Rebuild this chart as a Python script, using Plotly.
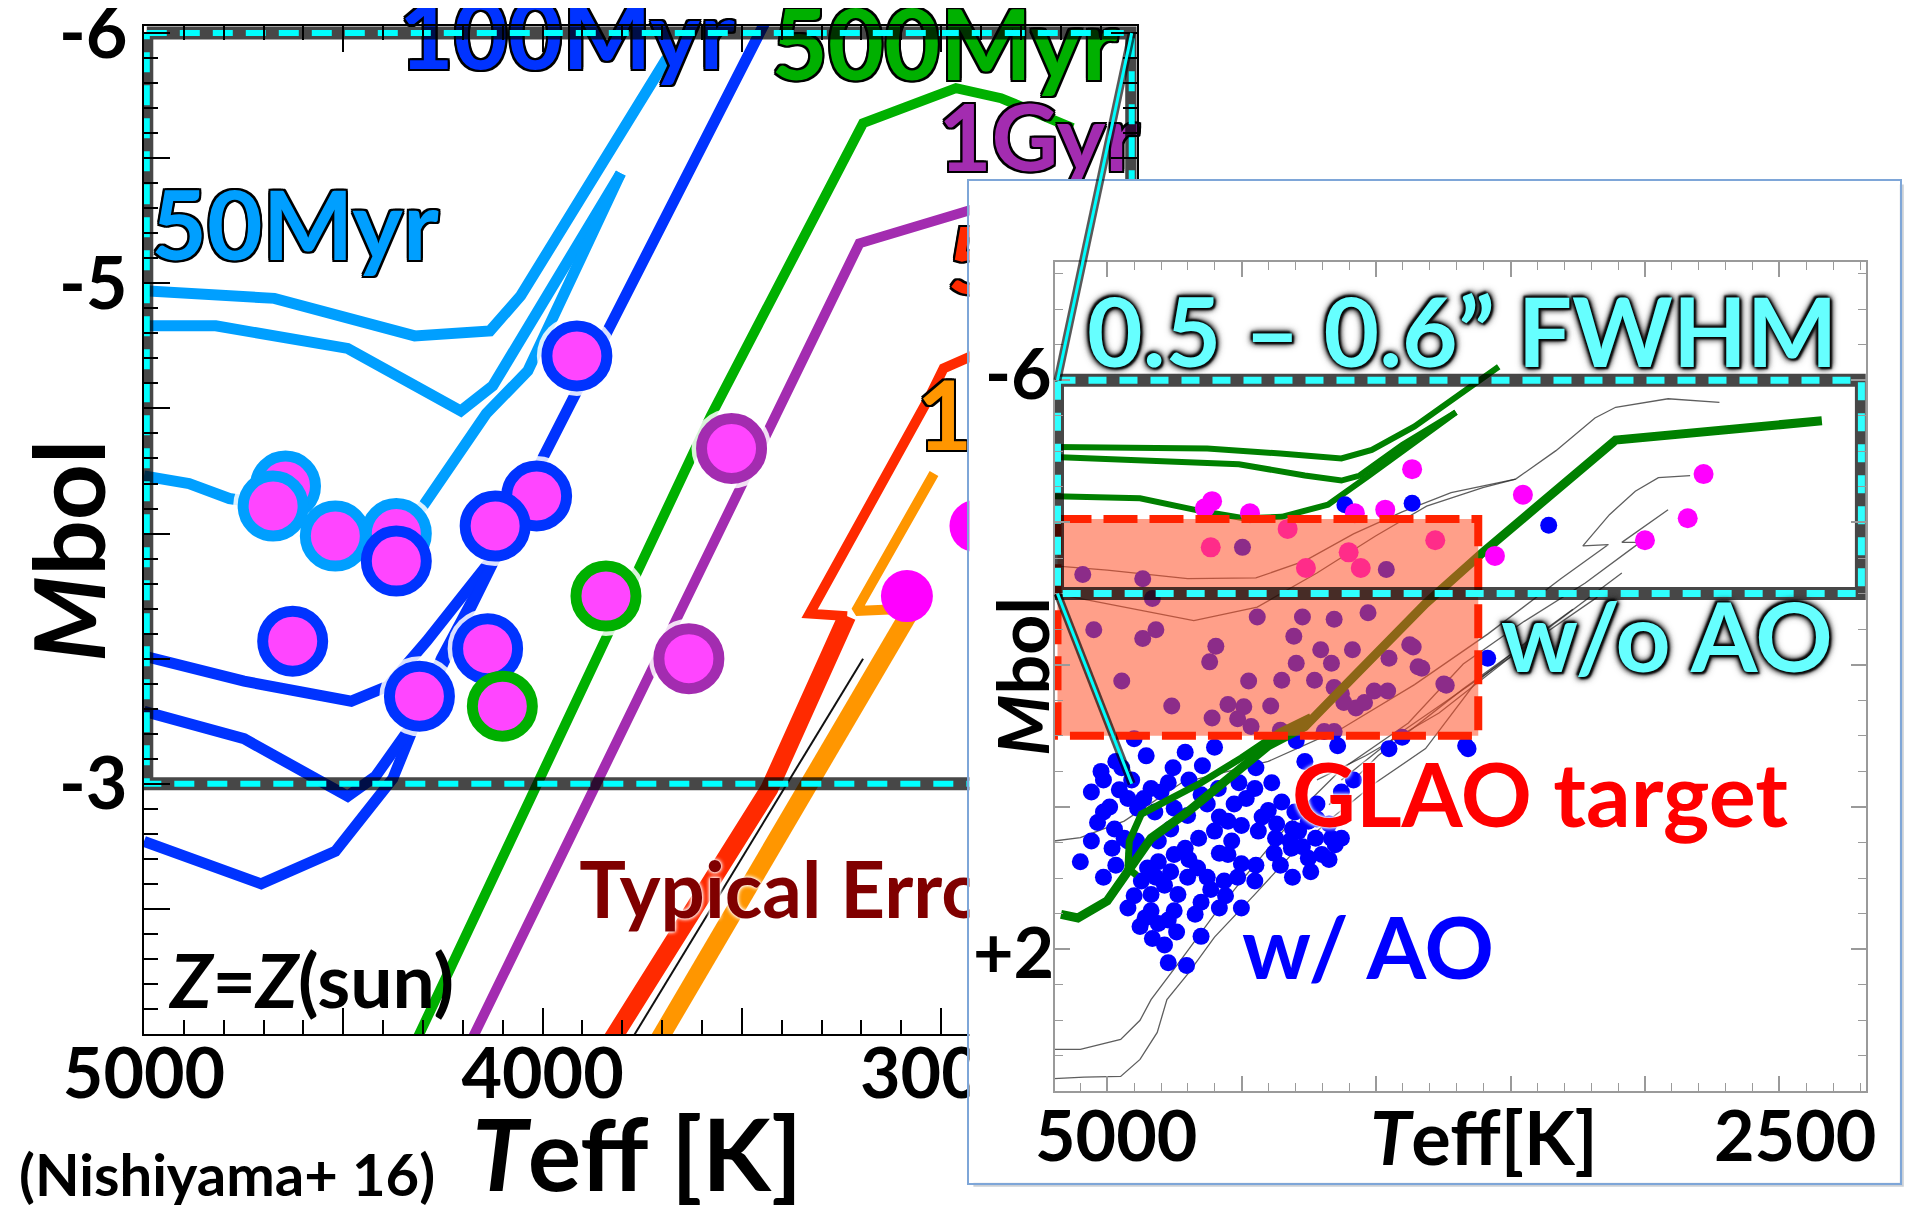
import plotly.graph_objects as go

OFF = 8            # page body margin (px)
FW, FH = 1904, 1197
FONT = "Lato"


def px_x(x):
    return (x - OFF) / FW


def px_y(y):
    return 1 - (y - OFF) / FH


# ---------------- main panel : isochrones (Teff [K], Mbol) ----------------
iso50_a_teff = [5000, 4673, 4321, 4132, 4055, 3688]
iso50_a_mbol = [-4.97, -4.94, -4.79, -4.81, -4.95, -5.90]
iso50_b_teff = [5000, 4820, 4489, 4205, 4125, 3804]
iso50_b_mbol = [-4.83, -4.83, -4.74, -4.49, -4.59, -5.44]
iso50_c_teff = [5000, 4887, 4786, 4658, 4517, 4367, 4300, 4141, 4037, 3804]
iso50_c_mbol = [-4.23, -4.20, -4.14, -4.11, -4.02, -4.00, -4.11, -4.48, -4.65, -5.44]

iso100_a_teff = [3443, 3841, 3997, 4107, 4254, 4376, 4520, 4706, 5000]
iso100_a_mbol = [-6.04, -4.81, -4.31, -3.94, -3.50, -3.02, -2.73, -2.60, -2.77]
iso100_b_teff = [5000, 4749, 4480, 4388, 4291, 4184, 4107]
iso100_b_mbol = [-3.51, -3.41, -3.33, -3.39, -3.57, -3.79, -3.94]
iso100_c_teff = [5000, 4749, 4489, 4419, 4321, 4242, 4107]
iso100_c_mbol = [-3.29, -3.18, -2.95, -3.03, -3.25, -3.51, -3.94]

iso500_teff = [2670, 2850, 2963, 3196, 3578, 4321]
iso500_mbol = [-5.62, -5.74, -5.78, -5.64, -4.47, -1.96]
iso1g_teff = [2807, 3205, 4180]
iso1g_mbol = [-5.35, -5.16, -1.97]
iso5g_up_teff = [2823, 2930, 2994, 3028, 3330, 3236]
iso5g_up_mbol = [-4.78, -4.71, -4.66, -4.55, -3.68, -3.67]
iso5g_lo_teff = [3236, 3431, 3829]
iso5g_lo_mbol = [-3.67, -2.98, -1.97]
iso10g_up_teff = [3018, 3214, 3073]
iso10g_up_mbol = [-4.24, -3.69, -3.70]
iso10g_lo_teff = [3073, 3711]
iso10g_lo_mbol = [-3.70, -1.97]
edge_teff = [3196, 3780]
edge_mbol = [-3.50, -1.97]

# ---------------- main panel : stars ----------------
star_dblue_teff = [3914, 4015, 4119, 4367, 4627, 4138, 4309]
star_dblue_mbol = [-4.71, -4.15, -4.03, -3.89, -3.57, -3.54, -3.35]
star_lblue_teff = [4645, 4676, 4520, 4367]
star_lblue_mbol = [-4.19, -4.11, -3.99, -4.00]
star_green_teff = [3841, 4101]
star_green_mbol = [-3.75, -3.31]
star_purple_teff = [3526, 3633]
star_purple_mbol = [-4.34, -3.50]
star_plain_teff = [3086, 2914]
star_plain_mbol = [-3.75, -4.03]

zoom_box_teff = [4993, 2522]
zoom_box_mbol = [-6.0, -3.0]

main_xtick_vals = [5000, 4500, 4000, 3500, 3000, 2500]
main_xtick_text = ["5000", "", "4000", "", "3000", ""]
main_ytick_vals = [-6, -5.5, -5, -4.5, -4, -3.5, -3, -2.5, -2]
main_ytick_text = ["-6", "", "-5", "", "", "", "-3", "", ""]

# ---------------- inset : data ----------------
in_blue_teff = [4116, 3866, 3358, 3585, 3658,
                5023, 4855, 4710, 4646, 4601, 4773, 4955, 4837, 4991, 5014, 4973, 4937, 4982, 4887,
                4823, 4751, 4701, 4651, 4587, 4510, 4451, 4388, 4351, 4302, 4252, 4288, 4225, 4166,
                4152, 4202, 4252, 4315, 4374, 4438, 4501, 4551, 4601, 4660, 4710, 4751, 4810, 4850,
                4873, 4837, 4787, 4737, 4751, 4837, 4859, 4810, 4773, 4701, 4664, 4615, 4565, 4501,
                4451, 4501, 4551, 5100, 4705, 4265, 3952, 3667,
                4923, 4810, 4628, 4537, 4401, 4311, 4583, 4764, 4900, 4220, 4129, 4084, 4356, 4651,
                4946, 4447, 4900, 4297, 3903, 4143,
                5059, 5014, 4968, 4909, 4864, 4800, 4755, 4696, 4637, 4583, 4528, 4483, 4424, 4370,
                4320, 4274, 4220, 4175, 4129, 4175, 4243, 4311, 4379, 4447, 4515, 4560, 4628, 4696,
                4764, 4819, 4900, 4923, 4878, 4832, 4787, 4742, 4673, 4583, 4651, 4773, 4923, 4968,
                5014, 5059, 5036, 4891,
                4497, 3962, 5091, 4868, 4832, 4442, 4274, 4156, 4030, 5050, 4868, 4819, 4596, 4619,
                4306, 4297, 4206, 4166, 4088, 3952, 3875, 3844, 3748, 4946, 4474, 4351, 4229, 4760,
                4551, 4492, 4610, 4515, 4392, 4465, 4156, 4129, 4120, 4075, 4043, 4007, 3957, 4193,
                4156, 4356, 3862, 3830, 3739]
in_blue_mbol = [-4.25, -4.27, -3.96, -2.09, -0.82,
                -0.50, -0.72, -0.77, -0.58, -0.84, -0.34, -0.24, -0.26, 0.00, 0.07, 0.31, 0.44, 0.58, 0.02,
                0.07, 0.02, 0.12, -0.17, -0.26, -0.34, -0.26, -0.34, -0.07, 0.07, 0.20, 0.34, 0.44, 0.44,
                0.53, 0.67, 0.72, 0.58, 0.44, 0.34, 0.26, 0.20, 0.34, 0.44, 0.58, 0.67, 0.77, 0.86,
                1.04, 1.23, 1.10, 1.23, 1.46, 1.46, 1.56, 1.64, 1.59, 0.99, 0.86, 1.16, 1.04, 0.80,
                1.04, 1.42, 0.67, 0.77, 2.23, -0.64, -0.82, -0.86,
                -0.12, 0.48, -0.04, 0.48, 0.05, 0.31, 0.65, 0.31, 0.65, -0.04, -0.21, -0.38, 0.82, 1.34,
                -0.55, -0.55, -0.96, -0.93, -0.98, -0.86,
                -0.21, -0.38, -0.64, -0.38, -0.12, -0.21, -0.55, -0.38, -0.12, 0.14, -0.04, -0.12, 0.14, 0.24,
                0.48, 0.56, 0.17, 0.24, 0.44, 0.74, 0.91, 0.99, 0.65, 0.82, 0.99, 1.25, 0.99, 0.74,
                0.91, 0.99, 1.25, 1.42, 1.68, 1.85, 1.94, 1.76, 1.51, 1.42, 1.82, 2.19, 0.48, 0.82,
                0.99, 0.48, 0.22, 0.48,
                -3.65, -3.34, -3.27, -3.21, -2.93, -2.67, -2.67, -2.64, -2.73, -2.49, -2.37, -2.49, -2.26, -2.04,
                -2.40, -2.02, -2.21, -2.02, -2.21, -2.09, -2.28, -1.97, -1.73, -1.77, -1.77, -1.78, -1.78, -1.42,
                -1.44, -1.41, -1.25, -1.24, -1.42, -1.13, -1.68, -1.59, -1.47, -1.39, -1.47, -1.63, -1.63, -1.06,
                -1.06, -1.08, -2.25, -1.95, -1.71]
in_mag_teff = [3866, 4610, 4637, 4469, 4079, 3966, 3454, 2782, 2841, 3000, 3558,
               4615, 4329, 4261, 4102, 4057, 3780]
in_mag_mbol = [-4.75, -4.30, -4.20, -4.13, -4.13, -4.18, -4.39, -4.68, -4.06, -3.75, -3.53,
               -3.65, -3.91, -3.36, -3.58, -3.36, -3.75]

thin_tracks = [
    ([5195, 5000, 4701, 4447, 4265, 4084, 3903, 3721, 3481],
     [-3.39, -3.33, -3.21, -3.22, -3.46, -3.84, -4.15, -4.42, -4.61]),
    ([5195, 4941, 4678, 4442, 4220, 4002, 3812, 3603, 3481, 3331, 3186, 3109, 2914, 2723],
     [-3.00, -2.81, -2.62, -2.81, -3.29, -3.81, -4.23, -4.49, -4.61, -5.01, -5.47, -5.62, -5.74, -5.69]),
    ([2832, 2950, 3036, 3132, 3231, 3136, 3313, 3585, 3857, 4129, 4401, 4723, 4937, 5100, 5200],
     [-4.66, -4.63, -4.44, -4.11, -3.67, -3.69, -3.21, -2.43, -1.72, -1.10, -0.64, -0.34, 0.20, 0.43, 0.48]),
    ([2914, 3086, 3018, 3222, 3449, 3676, 3880, 4002, 4129, 4252, 4379, 4501, 4601, 4728, 4837, 4878, 4950, 5100, 5200],
     [-4.18, -3.72, -3.72, -3.15, -2.61, -2.01, -1.18, -0.86, -0.53, -0.07, 0.48, 1.04, 1.51, 2.16, 2.71, 3.00, 3.27, 3.41, 3.41]),
    ([3404, 3630, 3816, 4002, 4179, 4315, 4451, 4601, 4701, 4778, 4814, 4878, 4950, 5086, 5200],
     [-2.43, -1.75, -0.82, -0.34, 0.20, 0.67, 1.23, 1.83, 2.35, 2.71, 3.17, 3.55, 3.79, 3.80, 3.82]),
    ([3086, 3449, 3766, 4039, 4220], [-3.29, -2.26, -1.32, -0.72, -0.38]),
    ([3177, 3540, 3903, 4129], [-2.95, -2.01, -1.06, -0.38]),
    ([3268, 3676, 3993, 4175], [-2.78, -1.66, -0.72, -0.03]),
]

g1_teff = [2342, 3109, 3603, 3816, 4084, 4265, 4401, 4551, 4701, 4837, 4909, 5000, 5109, 5172]
g1_mbol = [-5.43, -5.16, -3.58, -2.86, -1.83, -1.13, -0.86, -0.38, 0.07, 0.44, 0.82, 1.32, 1.56, 1.51]
g2_teff = [4243, 4356, 4501, 4651, 4773, 4873, 4918, 4923, 4891]
g2_mbol = [-1.27, -1.06, -0.69, -0.34, -0.10, 0.10, 0.48, 0.86, 0.96]
gt1_teff = [5195, 4628, 4356, 4129, 4016, 3857, 3544]
gt1_mbol = [-5.06, -5.04, -4.97, -4.90, -5.02, -5.35, -6.19]
gt2_teff = [5195, 4510, 4265, 4129, 4061, 3903, 3703]
gt2_mbol = [-4.92, -4.82, -4.66, -4.59, -4.66, -5.09, -5.55]
gt3_teff = [5195, 4878, 4664, 4492, 4351, 4179, 4030, 3857, 3703]
gt3_mbol = [-4.37, -4.34, -4.17, -4.06, -4.08, -4.25, -4.65, -5.14, -5.55]

inset_box_teff = [5185, 2195]
inset_box_mbol = [-6.0, -3.0]
glao_teff = [5185, 3620]
glao_mbol = [-4.05, -1.0]

# ---------------- layout geometry (pixel frames of the three panels) ----------------
MX_DOM, MY_DOM = [px_x(144), px_x(1136.5)], [px_y(1034), px_y(25.6)]
PX_DOM, PY_DOM = [px_x(969.4), px_x(1899.8)], [px_y(1182.8), px_y(180.5)]
IX_DOM, IY_DOM = [px_x(1054.8), px_x(1865.7)], [px_y(1091.4), px_y(262.2)]
MX_RNG, MY_RNG = [5000, 2510], [-2, -6.03]
IX_RNG, IY_RNG = [5195, 2179], [4.0, -7.66]


def to_paper(v, rng, dom):
    return dom[0] + (v - rng[0]) / (rng[1] - rng[0]) * (dom[1] - dom[0])


fig = go.Figure()


def add_line(x, y, color, width, xa="x", ya="y", dash=None, opacity=1.0):
    fig.add_trace(go.Scatter(x=x, y=y, mode="lines", xaxis=xa, yaxis=ya, opacity=opacity,
                             line=dict(color=color, width=width, dash=dash),
                             hoverinfo="skip", showlegend=False))


def box(tv, mv):
    return [tv[0], tv[1], tv[1], tv[0], tv[0]], [mv[0], mv[0], mv[1], mv[1], mv[0]]


LBLUE, DBLUE, GREEN, PURPLE, RED, ORANGE = "#009FFF", "#0033FF", "#00B000", "#A32CB0", "#FF2A00", "#FF9600"
SHADOW = "rgba(0,0,0,0.72)"

# main isochrones
for t, m in [(iso50_a_teff, iso50_a_mbol), (iso50_b_teff, iso50_b_mbol), (iso50_c_teff, iso50_c_mbol)]:
    add_line(t, m, LBLUE, 11)
for t, m in [(iso100_a_teff, iso100_a_mbol), (iso100_b_teff, iso100_b_mbol), (iso100_c_teff, iso100_c_mbol)]:
    add_line(t, m, DBLUE, 11)
add_line(iso500_teff, iso500_mbol, GREEN, 10)
add_line(iso1g_teff, iso1g_mbol, PURPLE, 10)
add_line(edge_teff, edge_mbol, "#111111", 2)
add_line(iso5g_up_teff, iso5g_up_mbol, RED, 10)
add_line(iso5g_lo_teff, iso5g_lo_mbol, RED, 18)
add_line(iso10g_up_teff, iso10g_up_mbol, ORANGE, 10)
add_line(iso10g_lo_teff, iso10g_lo_mbol, ORANGE, 18)

# stars with white halo
ring_sets = [(star_lblue_teff, star_lblue_mbol, LBLUE), (star_dblue_teff, star_dblue_mbol, DBLUE),
             (star_green_teff, star_green_mbol, GREEN), (star_purple_teff, star_purple_mbol, PURPLE)]
halo_t = sum([s[0] for s in ring_sets], [])
halo_m = sum([s[1] for s in ring_sets], [])
fig.add_trace(go.Scatter(x=halo_t, y=halo_m, mode="markers", xaxis="x", yaxis="y",
                         marker=dict(size=80, color="rgba(255,255,255,0.85)", line=dict(width=0)),
                         hoverinfo="skip", showlegend=False))
for t, m, c in ring_sets:
    fig.add_trace(go.Scatter(x=t, y=m, mode="markers", xaxis="x", yaxis="y",
                             marker=dict(size=60, color="#FF45FF", line=dict(color=c, width=11)),
                             hoverinfo="skip", showlegend=False))
fig.add_trace(go.Scatter(x=star_plain_teff, y=star_plain_mbol, mode="markers", xaxis="x", yaxis="y",
                         marker=dict(size=52, color="#FF00FF", line=dict(width=0)),
                         hoverinfo="skip", showlegend=False))

OUT = ("-2px -2px 0 #000, 2px -2px 0 #000, -2px 2px 0 #000, 2px 2px 0 #000, "
       "0 2px 0 #000, 0 -2px 0 #000, 2px 0 0 #000, -2px 0 0 #000")
WGLOW = "0 0 4px #fff, 0 0 4px #fff, 0 0 2px #fff"
DGLOW = ("0 0 3px #000, 0 0 3px #000, 0 0 6px #111, 0 0 6px #111, 0 0 10px #333, "
         "2px 2px 2px #000, -2px -2px 2px #000")

# labels in main panel (text traces so that the inset panel hides them where it overlaps)
main_labels = [
    ("50Myr", 4621, -5.19, LBLUE, 96, OUT, "middle center"),
    ("100Myr", 3939, -5.95, DBLUE, 94, OUT, "middle center"),
    ("500Myr", 2991, -5.91, GREEN, 97, OUT, "middle center"),
    ("1Gyr", 2755, -5.54, PURPLE, 92, OUT, "middle center"),
    ("5Gyr", 2985, -5.05, RED, 92, OUT, "middle right"),
    ("10Gyr", 3061, -4.43, ORANGE, 96, OUT, "middle right"),
    ("Typical Error", 3908, -2.54, "#800000", 78, WGLOW, "middle right"),
    ("<i>Z</i>=<i>Z</i>(sun)", 4578, -2.18, "#000000", 75, None, "middle center"),
]
for txt, t, m, col, sz, sh, pos in main_labels:
    f = dict(family=FONT, size=sz, color=col, weight="bold")
    if sh:
        f["shadow"] = sh
    fig.add_trace(go.Scatter(x=[t], y=[m], mode="text", text=[txt], textposition=pos, textfont=f,
                             xaxis="x", yaxis="y", cliponaxis=False, hoverinfo="skip", showlegend=False))

# zoomed region box (cyan dashed with dark glow)
bx, by = box(zoom_box_teff, zoom_box_mbol)
add_line(bx, by, SHADOW, 13)
add_line(bx, by, "#00FFFF", 6, dash="20px,13px")

# panel background subplot (x2/y2)
fig.add_trace(go.Scatter(x=[None], y=[None], xaxis="x2", yaxis="y2", mode="markers",
                         hoverinfo="skip", showlegend=False))

# ---------------- inset traces (x3/y3) ----------------
for t, m in thin_tracks:
    add_line(t, m, "rgba(40,40,40,0.75)", 1.3, "x3", "y3")
add_line(gt1_teff, gt1_mbol, "#008000", 6, "x3", "y3")
add_line(gt2_teff, gt2_mbol, "#008000", 6, "x3", "y3")
add_line(gt3_teff, gt3_mbol, "#008000", 6, "x3", "y3")
fig.add_trace(go.Scatter(x=in_blue_teff, y=in_blue_mbol, mode="markers", xaxis="x3", yaxis="y3",
                         marker=dict(size=17, color="#0000FF", line=dict(width=0)),
                         hoverinfo="skip", showlegend=False))
add_line(g2_teff, g2_mbol, "#008000", 7, "x3", "y3")
add_line(g1_teff, g1_mbol, "#008000", 9, "x3", "y3")
fig.add_trace(go.Scatter(x=in_mag_teff, y=in_mag_mbol, mode="markers", xaxis="x3", yaxis="y3",
                         marker=dict(size=20, color="#FF00FF", line=dict(width=0)),
                         hoverinfo="skip", showlegend=False))
gx, gy = box(glao_teff, glao_mbol)
fig.add_trace(go.Scatter(x=gx, y=gy, mode="lines", fill="toself", fillcolor="rgba(255,80,40,0.55)",
                         line=dict(color="#FF2200", width=8, dash="34px,12px"),
                         xaxis="x3", yaxis="y3", hoverinfo="skip", showlegend=False))
ix, iy = box(inset_box_teff, inset_box_mbol)
add_line(ix, iy, SHADOW, 13, "x3", "y3")
add_line(ix, iy, "#2FFFFF", 7, "x3", "y3", dash="18px,13px")

# ---------------- connecting lines (paper coords derived from data) ----------------
p_main_tr = (to_paper(zoom_box_teff[1], MX_RNG, MX_DOM), to_paper(zoom_box_mbol[0], MY_RNG, MY_DOM))
p_main_br = (to_paper(zoom_box_teff[1], MX_RNG, MX_DOM), to_paper(zoom_box_mbol[1], MY_RNG, MY_DOM))
p_in_tl = (to_paper(inset_box_teff[0], IX_RNG, IX_DOM), to_paper(inset_box_mbol[0], IY_RNG, IY_DOM))
p_in_bl = (to_paper(inset_box_teff[0], IX_RNG, IX_DOM), to_paper(inset_box_mbol[1], IY_RNG, IY_DOM))
shapes = [
    # faint drop shadow of the inset panel
    dict(type="rect", xref="paper", yref="paper", x0=PX_DOM[0] + 4 / FW, x1=PX_DOM[1] + 4 / FW,
         y0=PY_DOM[0] - 4 / FH, y1=PY_DOM[1] - 4 / FH, fillcolor="rgba(140,150,165,0.45)",
         line=dict(width=0), layer="below"),
]
for a, b in [(p_main_tr, p_in_tl), (p_in_bl, p_main_br)]:
    for col, wd in [("rgba(0,0,0,0.65)", 8), ("#00FFFF", 3)]:
        shapes.append(dict(type="line", xref="paper", yref="paper", x0=a[0], y0=a[1], x1=b[0], y1=b[1],
                           line=dict(color=col, width=wd), layer="above"))


def ann(text, xpx, ypx, size, color="#000", shadow=None, angle=0, yanchor="middle"):
    f = dict(family=FONT, size=size, color=color, weight="bold")
    if shadow:
        f["shadow"] = shadow
    return dict(text=text, x=px_x(xpx), y=px_y(ypx), xref="paper", yref="paper", showarrow=False,
                xanchor="center", yanchor=yanchor, textangle=angle, font=f)


annotations = [
    ann("<i>M</i>bol", 67, 551, 98, angle=-90),
    ann("<i>T</i>eff [K]", 637, 1152, 100),
    ann("(Nishiyama+ 16)", 227, 1173, 58),
    ann("0.5 \u2013 0.6\u201d FWHM", 1462, 329, 96, "#66FFFF", DGLOW),
    ann("w/o AO", 1667, 634, 96, "#66FFFF", DGLOW),
    ann("GLAO target", 1540, 793, 88, "#FF0000", WGLOW),
    ann("w/ AO", 1368, 945, 86, "#0000FF", WGLOW),
    ann("<i>M</i>bol", 1022, 677, 70, angle=-90),
    ann("<i>T</i>eff[K]", 1484, 1136, 74),
    ann("5000", 1116, 1134, 70),
    ann("2500", 1795, 1134, 70),
    ann("-6", 1018, 372, 70),
    ann("+2", 1013, 951, 70),
]

common = dict(showgrid=False, zeroline=False, automargin=False)
fig.update_layout(
    width=FW, height=FH, margin=dict(l=0, r=0, t=0, b=0, autoexpand=False),
    paper_bgcolor="white", plot_bgcolor="white", showlegend=False,
    xaxis=dict(domain=MX_DOM, range=MX_RNG, anchor="y", tickmode="array", tickvals=main_xtick_vals,
               ticktext=main_xtick_text, ticks="inside", ticklen=26, tickwidth=2, tickcolor="#000",
               minor=dict(tickmode="linear", tick0=5000, dtick=100, ticks="inside", ticklen=14,
                          tickwidth=1.5, tickcolor="#000"),
               showline=True, linecolor="#000", linewidth=2, mirror="allticks",
               ticklabelstandoff=-22, ticklabeloverflow="allow",
               tickfont=dict(family=FONT, size=70, color="#000", weight="bold"), **common),
    yaxis=dict(domain=MY_DOM, range=MY_RNG, anchor="x", tickmode="array", tickvals=main_ytick_vals,
               ticktext=main_ytick_text, ticks="inside", ticklen=26, tickwidth=2, tickcolor="#000",
               minor=dict(tickmode="linear", tick0=-6, dtick=0.1, ticks="inside", ticklen=14,
                          tickwidth=1.5, tickcolor="#000"),
               showline=True, linecolor="#000", linewidth=2, mirror="allticks",
               ticklabeloverflow="allow",
               tickfont=dict(family=FONT, size=72, color="#000", weight="bold"), **common),
    xaxis2=dict(domain=PX_DOM, range=[0, 1], anchor="y2", showline=True, mirror=True,
                linecolor="#7EA6D8", linewidth=2, ticks="", showticklabels=False,
                fixedrange=True, **common),
    yaxis2=dict(domain=PY_DOM, range=[0, 1], anchor="x2", showline=True, mirror=True,
                linecolor="#7EA6D8", linewidth=2, ticks="", showticklabels=False,
                fixedrange=True, **common),
    xaxis3=dict(domain=IX_DOM, range=IX_RNG, anchor="y3", tickmode="linear", tick0=5000, dtick=500,
                ticks="inside", ticklen=15, tickwidth=1.5, tickcolor="#9A9A9A",
                minor=dict(tickmode="linear", tick0=5000, dtick=100, ticks="inside", ticklen=8,
                           tickwidth=1.2, tickcolor="#9A9A9A"),
                showline=True, linecolor="#9A9A9A", linewidth=2, mirror="allticks",
                showticklabels=False, **common),
    yaxis3=dict(domain=IY_DOM, range=IY_RNG, anchor="x3", tickmode="linear", tick0=-6, dtick=2,
                ticks="inside", ticklen=15, tickwidth=1.5, tickcolor="#9A9A9A",
                minor=dict(tickmode="linear", tick0=-6, dtick=0.5, ticks="inside", ticklen=8,
                           tickwidth=1.2, tickcolor="#9A9A9A"),
                showline=True, linecolor="#9A9A9A", linewidth=2, mirror="allticks",
                showticklabels=False, **common),
    shapes=shapes,
    annotations=annotations,
)

fig.write_html("out.html")
